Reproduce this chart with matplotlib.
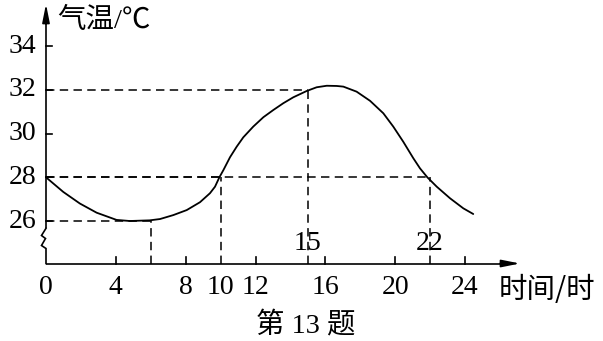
import matplotlib
matplotlib.use("Agg")
import matplotlib.pyplot as plt

# ---- data ----
hours = [0, 0.99, 1.94, 2.9, 4.04, 4.8, 5.94, 6.53, 7.29, 8.06, 8.82, 9.39, 9.68,
         9.93, 10.16, 10.54, 10.92, 11.3, 11.87, 12.45, 13.02, 13.59, 14.16, 14.93,
         15.5, 16.08, 16.65, 17.03, 17.79, 18.56, 19.32, 19.89, 20.46, 21.04, 21.42,
         21.84, 22.38, 23.14, 23.9, 24.47]
temps = [28.0, 27.33, 26.8, 26.38, 26.05, 26.0, 26.03, 26.09, 26.27, 26.5, 26.86,
         27.27, 27.57, 28.0, 28.33, 28.92, 29.4, 29.83, 30.32, 30.75, 31.08, 31.39,
         31.66, 31.95, 32.12, 32.19, 32.18, 32.15, 31.92, 31.5, 30.93, 30.32, 29.63,
         28.87, 28.41, 28.0, 27.57, 27.04, 26.58, 26.32]
xtick_vals = [0, 4, 8, 10, 12, 16, 20, 24]
xtick_marks = [4, 8, 12, 16, 20, 24]
ytick_vals = [26, 28, 30, 32, 34]
ref_x = [6, 10, 15, 22]
ref_y = [26, 28, 32, 28]
marked_x = [15, 22]
ylabel = "气温/℃"
xlabel = "时间/时"
caption = "第 13 题"

# ---- layout (pixel mapping) ----
W, H = 603, 341
X0PX, XSC = 46.0, 17.46      # px of hour 0, px per hour
Y26PX, YSC = 221.0, 21.85    # px of 26 degC, px per degree

def px2x(px):
    return (px - X0PX) / XSC

def py2y(py):
    return 26 + (Y26PX - py) / YSC

fig = plt.figure(figsize=(W / 100, H / 100), dpi=100)
ax = fig.add_axes([0, 0, 1, 1])
ax.set_xlim(px2x(0), px2x(W))
ax.set_ylim(py2y(H), py2y(0))
ax.axis("off")

k = "black"
axis_y = py2y(263.5)
axis_lw = 1.2
num_font = ["Liberation Serif", "Noto Sans CJK SC"]
cjk_font = ["Noto Sans CJK SC", "DejaVu Sans"]
fs_num = 20
fs_cjk = 20.5

# x axis with arrow
x_end = px2x(520)
ax.plot([0, px2x(505)], [axis_y, axis_y], color=k, lw=axis_lw, solid_capstyle="butt")
ax.annotate("", xy=(x_end, axis_y), xytext=(px2x(500), axis_y),
            arrowprops=dict(arrowstyle="-|>,head_length=1.1,head_width=0.22",
                            color=k, lw=axis_lw, shrinkA=0, shrinkB=0))
# y axis with arrow and break
y_top = py2y(4)
ax.plot([0, 0], [py2y(228.3), py2y(20)], color=k, lw=axis_lw, solid_capstyle="butt")
ax.annotate("", xy=(0, y_top), xytext=(0, py2y(24)),
            arrowprops=dict(arrowstyle="-|>,head_length=1.1,head_width=0.22",
                            color=k, lw=axis_lw, shrinkA=0, shrinkB=0))
zz_x = [0, px2x(41.5), px2x(45.5), px2x(41.5), 0, 0]
zz_y = [py2y(228.3), py2y(235.5), py2y(238.5), py2y(245.5), py2y(248.5), axis_y]
ax.plot(zz_x, zz_y, color=k, lw=axis_lw, solid_joinstyle="miter")

# ticks
tl_x = 7 / YSC
for xv in xtick_marks:
    ax.plot([xv, xv], [axis_y, axis_y + tl_x], color=k, lw=axis_lw)
tl_y = 6 / XSC
for yv in ytick_vals:
    ax.plot([0, tl_y], [yv, yv], color=k, lw=axis_lw)

# tick labels
for xv in xtick_vals:
    ax.text(xv, py2y(287), str(xv), ha="center", va="center",
            fontsize=fs_num, family=num_font)
for yv in ytick_vals:
    ax.text(px2x(36), yv, str(yv), ha="right", va="center",
            fontsize=fs_num, family=num_font)
for xv in marked_x:
    ax.text(xv, py2y(243), str(xv), ha="center", va="center",
            fontsize=fs_num, family=num_font)

# dashed reference lines
dash = dict(color=k, lw=1.1, linestyle=(0, (5.5, 3.5)))
for xv, yv in zip(ref_x, ref_y):
    ax.plot([0, xv], [yv, yv], **dash)
    ax.plot([xv, xv], [axis_y, yv], **dash)

# curve
ax.plot(hours, temps, color=k, lw=1.3, solid_capstyle="round", solid_joinstyle="round")

# labels
ax.text(px2x(57), py2y(21), ylabel, ha="left", va="center",
        fontsize=fs_cjk, family=num_font)
ax.text(px2x(499), py2y(290), xlabel, ha="left", va="center",
        fontsize=fs_cjk, family=cjk_font)
ax.text(px2x(306), py2y(326), caption, ha="center", va="center",
        fontsize=fs_cjk, family=num_font)

fig.savefig("out.png", dpi=100, facecolor="white")
